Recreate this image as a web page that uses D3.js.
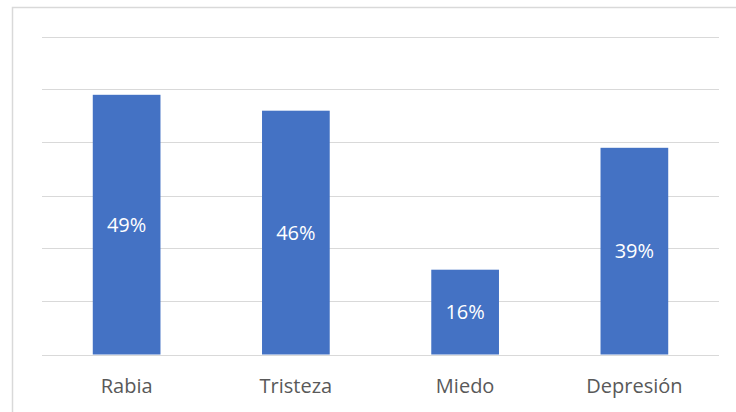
<!DOCTYPE html>
<html>
<head>
<meta charset="utf-8">
<script src="https://cdn.jsdelivr.net/npm/d3@7"></script>
<style>
  html, body { margin: 0; padding: 0; background: #fff; }
  svg { display: block; }
  text { font-family: "Open Sans", sans-serif; }
</style>
</head>
<body>
<svg class="chart" width="736" height="412"></svg>
<script>
const categories = ["Rabia", "Tristeza", "Miedo", "Depresión"];
const values = [0.49, 0.46, 0.16, 0.39];
const gridTicks = [0, 0.1, 0.2, 0.3, 0.4, 0.5, 0.6];

const margin = { top: 36.5, right: 17, bottom: 57.5, left: 42 };

const svg = d3.select(".chart");
const width = +svg.attr("width");
const height = +svg.attr("height");

// chart frame (runs off the right and bottom edge)
svg.append("rect")
  .attr("x", 12.5)
  .attr("y", 7.5)
  .attr("width", 740)
  .attr("height", 420)
  .attr("fill", "#fff")
  .attr("stroke", "#d9d9d9")
  .attr("stroke-width", 1.5);

const x = d3.scaleBand()
  .domain(categories)
  .range([margin.left, width - margin.right])
  .paddingInner(0.6)
  .paddingOuter(0.3);

const y = d3.scaleLinear()
  .domain([0, 0.6])
  .range([height - margin.bottom, margin.top]);

// gridlines
svg.append("g")
  .selectAll("line")
  .data(gridTicks)
  .join("line")
  .attr("x1", margin.left)
  .attr("x2", width - margin.right)
  .attr("y1", (d) => Math.round(y(d)) + 0.5)
  .attr("y2", (d) => Math.round(y(d)) + 0.5)
  .attr("stroke", "#d9d9d9")
  .attr("stroke-width", 1.2);

// bars
svg.append("g")
  .selectAll("rect")
  .data(values)
  .join("rect")
  .attr("x", (d, i) => x(categories[i]))
  .attr("y", (d) => y(d))
  .attr("width", x.bandwidth())
  .attr("height", (d) => y(0) - y(d))
  .attr("fill", "#4472c4");

// value labels
svg.append("g")
  .selectAll("text")
  .data(values)
  .join("text")
  .attr("x", (d, i) => x(categories[i]) + x.bandwidth() / 2)
  .attr("y", (d) => (y(d) + y(0)) / 2)
  .attr("dy", "0.35em")
  .attr("text-anchor", "middle")
  .attr("font-size", "20px")
  .attr("fill", "#fff")
  .text((d) => d3.format(".0%")(d));

// x axis labels
svg.append("g")
  .attr("transform", `translate(0,${y(0)})`)
  .call(d3.axisBottom(x).tickSize(0).tickPadding(0))
  .call((g) => g.select(".domain").remove())
  .call((g) => g.selectAll("text")
    .attr("y", 31)
    .attr("dy", "0.35em")
    .attr("font-size", "20px")
    .attr("font-family", "Open Sans, sans-serif")
    .attr("fill", "#595959"));
</script>
</body>
</html>
